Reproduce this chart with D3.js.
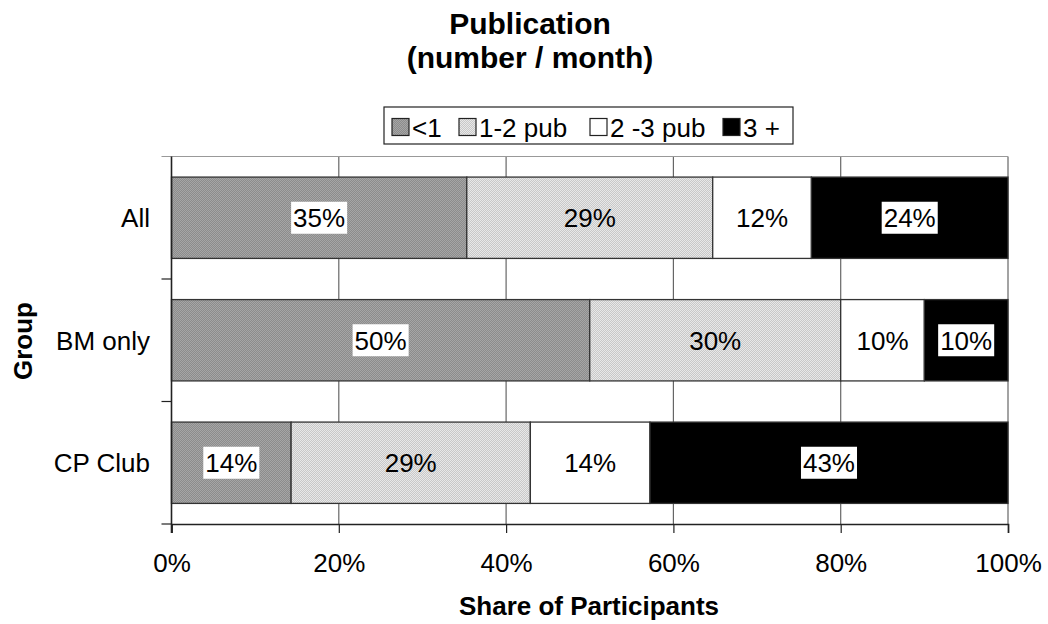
<!DOCTYPE html>
<html><head><meta charset="utf-8">
<script src="https://cdn.jsdelivr.net/npm/d3@7"></script>
<style>body{margin:0;background:#fff}svg{display:block}text{font-family:"Liberation Sans",Arial,sans-serif}</style>
</head><body>
<svg id="c" width="1048" height="624"></svg>
<script>
const groups = ["All", "BM only", "CP Club"];
const seriesNames = ["<1", "1-2 pub", "2 -3 pub", "3 +"];
const valuesLT1 = [35.3, 50.0, 14.3];
const values12 = [29.4, 30.0, 28.6];
const values23 = [11.8, 10.0, 14.3];
const values3p = [23.5, 10.0, 42.8];
const xTicks = [0, 20, 40, 60, 80, 100];

const seriesVals = [valuesLT1, values12, values23, values3p];
const fills = ["url(#pDark)", "url(#pLight)", "#ffffff", "#000000"];
const labelBg = [true, false, false, true];

const svg = d3.select("#c");
const defs = svg.append("defs");
function checker(id, a, b) {
  const p = defs.append("pattern").attr("id", id).attr("width", 2).attr("height", 2).attr("patternUnits", "userSpaceOnUse");
  p.append("rect").attr("width", 2).attr("height", 2).attr("fill", a);
  p.append("rect").attr("width", 1).attr("height", 1).attr("fill", b);
  p.append("rect").attr("x", 1).attr("y", 1).attr("width", 1).attr("height", 1).attr("fill", b);
}
checker("pDark", "#8c8c8c", "#a6a6a6");
checker("pLight", "#c8c8c8", "#e8e8e8");

const L = 171.5, R = 1008, T = 156.5, B = 524;
const FS = 26;
const x = d3.scaleLinear().domain([0, 100]).range([L, R]);
const y = d3.scaleBand().domain(groups).range([T, B]).paddingInner(0.336).paddingOuter(0.168);

// gridlines
svg.append("g").selectAll("line").data(xTicks.slice(1)).join("line")
  .attr("x1", d => x(d)).attr("x2", d => x(d)).attr("y1", T).attr("y2", B)
  .attr("stroke", "#666").attr("stroke-width", 1.2);
svg.append("line").attr("x1", L - 10).attr("x2", R).attr("y1", T).attr("y2", T).attr("stroke", "#999").attr("stroke-width", 1.2);

// bars
const stackData = groups.map((g, i) => {
  let acc = 0;
  return seriesVals.map((arr, s) => { const v = arr[i]; const o = {g, s, x0: acc, x1: acc + v, v}; acc += v; return o; });
}).flat();

svg.append("g").selectAll("rect").data(stackData).join("rect")
  .attr("x", d => x(d.x0)).attr("y", d => y(d.g))
  .attr("width", d => x(d.x1) - x(d.x0)).attr("height", y.bandwidth())
  .attr("fill", d => fills[d.s]).attr("stroke", "#333").attr("stroke-width", 1.3);

// labels
const lab = svg.append("g");
stackData.forEach(d => {
  const cx = (x(d.x0) + x(d.x1)) / 2, cy = y(d.g) + y.bandwidth() / 2;
  const t = Math.round(d.v) + "%";
  const tx = lab.append("text").attr("x", cx).attr("y", cy + 9.5).attr("text-anchor", "middle")
    .attr("font-size", FS).attr("fill", "#000").text(t);
  if (labelBg[d.s]) {
    const w = tx.node().getComputedTextLength() + 4;
    lab.insert("rect", "text").attr("x", cx - w / 2).attr("y", cy - 16).attr("width", w).attr("height", 32).attr("fill", "#fff");
  }
});

// axes
const xAxis = d3.axisBottom(x).tickValues(xTicks).tickFormat(d => d + "%").tickSize(9).tickPadding(20.5);
const gx = svg.append("g").attr("transform", `translate(0,${B})`).call(xAxis);
gx.select(".domain").attr("stroke", "#222").attr("stroke-width", 1.6);
gx.selectAll(".tick line").attr("stroke", "#222").attr("stroke-width", 1.2);
gx.selectAll("text").attr("font-size", FS).attr("fill", "#000").attr("font-family", "Liberation Sans, Arial, sans-serif");

const bounds = [T, T + (B - T) / 3, T + 2 * (B - T) / 3, B];
svg.append("line").attr("x1", L).attr("x2", L).attr("y1", T).attr("y2", B + 9).attr("stroke", "#222").attr("stroke-width", 1.6);
svg.append("g").selectAll("line").data(bounds.slice(1)).join("line")
  .attr("x1", L - 10).attr("x2", L).attr("y1", d => d).attr("y2", d => d).attr("stroke", "#222").attr("stroke-width", 1.2);
svg.append("g").selectAll("text").data(groups).join("text")
  .attr("x", 150).attr("y", d => y(d) + y.bandwidth() / 2 + 9.5).attr("text-anchor", "end")
  .attr("font-size", FS).text(d => d);

// titles
svg.append("text").attr("x", 530).attr("y", 33.5).attr("text-anchor", "middle").attr("font-size", 30).attr("font-weight", "bold").text("Publication");
svg.append("text").attr("x", 530).attr("y", 68).attr("text-anchor", "middle").attr("font-size", 30).attr("font-weight", "bold").text("(number / month)");
svg.append("text").attr("x", 589).attr("y", 615).attr("text-anchor", "middle").attr("font-size", 26).attr("font-weight", "bold").text("Share of Participants");
svg.append("text").attr("transform", "translate(32,341) rotate(-90)").attr("text-anchor", "middle").attr("font-size", 26).attr("font-weight", "bold").text("Group");

// legend
const lg = svg.append("g");
lg.append("rect").attr("x", 384).attr("y", 107).attr("width", 409).attr("height", 37).attr("fill", "#fff").attr("stroke", "#222").attr("stroke-width", 1.2);
const legX = [392, 459, 590, 723];
seriesNames.forEach((n, i) => {
  lg.append("rect").attr("x", legX[i]).attr("y", 118.5).attr("width", 17).attr("height", 17).attr("fill", fills[i]).attr("stroke", "#222").attr("stroke-width", 1.2);
  lg.append("text").attr("x", legX[i] + 20).attr("y", 137).attr("font-size", FS).text(n);
});
</script>
</body></html>
